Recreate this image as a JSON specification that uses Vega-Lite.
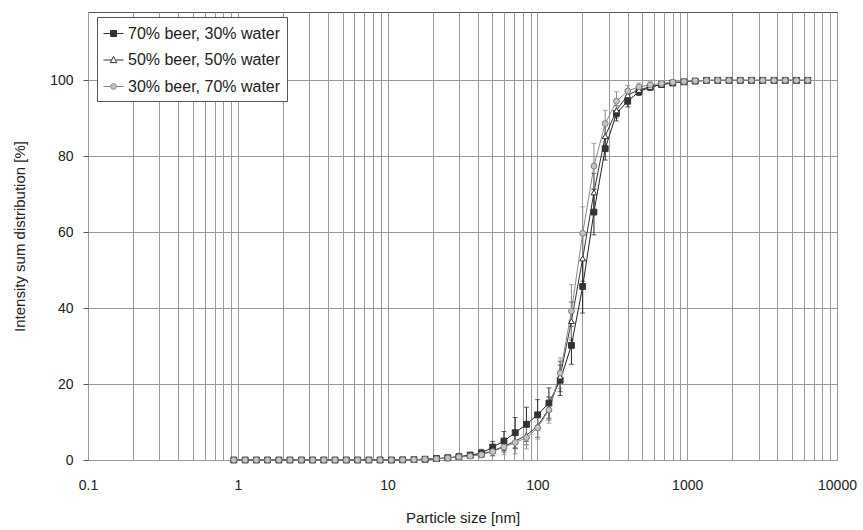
{
  "$schema": "https://vega.github.io/schema/vega-lite/v6.json",
  "width": 749,
  "height": 448,
  "autosize": {"type": "none"},
  "padding": {"left": 88, "right": 26, "top": 12, "bottom": 70},
  "background": "white",
  "config": {
    "font": "Liberation Sans",
    "view": {"stroke": "#555", "strokeWidth": 1},
    "axis": {
      "gridColor": "#9a9a9a", "gridOpacity": 1, "gridWidth": 1,
      "domainColor": "#555", "tickColor": "#555",
      "labelColor": "#222", "titleColor": "#222",
      "labelFont": "Liberation Sans", "titleFont": "Liberation Sans",
      "labelFontSize": 14, "titleFontSize": 15, "titleFontWeight": "normal"
    },
    "legend": {"labelFont": "Liberation Sans", "labelLimit": 400}
  },
  "datasets": {
    "dist": [
      {"size": 0.94, "series": "70% beer, 30% water", "value": 0},
      {"size": 1.12, "series": "70% beer, 30% water", "value": 0},
      {"size": 1.33, "series": "70% beer, 30% water", "value": 0},
      {"size": 1.58, "series": "70% beer, 30% water", "value": 0},
      {"size": 1.88, "series": "70% beer, 30% water", "value": 0},
      {"size": 2.23, "series": "70% beer, 30% water", "value": 0},
      {"size": 2.66, "series": "70% beer, 30% water", "value": 0},
      {"size": 3.16, "series": "70% beer, 30% water", "value": 0},
      {"size": 3.75, "series": "70% beer, 30% water", "value": 0},
      {"size": 4.46, "series": "70% beer, 30% water", "value": 0},
      {"size": 5.30, "series": "70% beer, 30% water", "value": 0},
      {"size": 6.31, "series": "70% beer, 30% water", "value": 0},
      {"size": 7.50, "series": "70% beer, 30% water", "value": 0},
      {"size": 8.91, "series": "70% beer, 30% water", "value": 0},
      {"size": 10.6, "series": "70% beer, 30% water", "value": 0},
      {"size": 12.6, "series": "70% beer, 30% water", "value": 0.05},
      {"size": 15.0, "series": "70% beer, 30% water", "value": 0.1},
      {"size": 17.8, "series": "70% beer, 30% water", "value": 0.2},
      {"size": 21.2, "series": "70% beer, 30% water", "value": 0.4},
      {"size": 25.2, "series": "70% beer, 30% water", "value": 0.6},
      {"size": 29.9, "series": "70% beer, 30% water", "value": 0.9},
      {"size": 35.6, "series": "70% beer, 30% water", "value": 1.3, "err": 0.5},
      {"size": 42.3, "series": "70% beer, 30% water", "value": 1.8, "err": 1.0},
      {"size": 50.3, "series": "70% beer, 30% water", "value": 3.4, "err": 1.5},
      {"size": 59.8, "series": "70% beer, 30% water", "value": 5.0, "err": 2.5},
      {"size": 71.1, "series": "70% beer, 30% water", "value": 7.2, "err": 4.0},
      {"size": 84.5, "series": "70% beer, 30% water", "value": 9.4, "err": 4.5},
      {"size": 100.4, "series": "70% beer, 30% water", "value": 11.9, "err": 4.0},
      {"size": 119.4, "series": "70% beer, 30% water", "value": 15.0, "err": 4.0},
      {"size": 141.9, "series": "70% beer, 30% water", "value": 21.0, "err": 4.0},
      {"size": 168.7, "series": "70% beer, 30% water", "value": 30.2, "err": 5.0},
      {"size": 200.6, "series": "70% beer, 30% water", "value": 45.7, "err": 7.0},
      {"size": 238.5, "series": "70% beer, 30% water", "value": 65.3, "err": 6.0},
      {"size": 283.5, "series": "70% beer, 30% water", "value": 82.0, "err": 3.0},
      {"size": 337.1, "series": "70% beer, 30% water", "value": 91.3, "err": 2.0},
      {"size": 400.8, "series": "70% beer, 30% water", "value": 94.5, "err": 1.5},
      {"size": 476.4, "series": "70% beer, 30% water", "value": 97.0, "err": 1.0},
      {"size": 566.4, "series": "70% beer, 30% water", "value": 98.2, "err": 0.8},
      {"size": 673.4, "series": "70% beer, 30% water", "value": 98.9},
      {"size": 800.6, "series": "70% beer, 30% water", "value": 99.3},
      {"size": 951.7, "series": "70% beer, 30% water", "value": 99.6},
      {"size": 1131, "series": "70% beer, 30% water", "value": 99.8},
      {"size": 1345, "series": "70% beer, 30% water", "value": 100},
      {"size": 1599, "series": "70% beer, 30% water", "value": 100},
      {"size": 1901, "series": "70% beer, 30% water", "value": 100},
      {"size": 2260, "series": "70% beer, 30% water", "value": 100},
      {"size": 2687, "series": "70% beer, 30% water", "value": 100},
      {"size": 3194, "series": "70% beer, 30% water", "value": 100},
      {"size": 3797, "series": "70% beer, 30% water", "value": 100},
      {"size": 4515, "series": "70% beer, 30% water", "value": 100},
      {"size": 5367, "series": "70% beer, 30% water", "value": 100},
      {"size": 6381, "series": "70% beer, 30% water", "value": 100},

      {"size": 0.94, "series": "50% beer, 50% water", "value": 0},
      {"size": 1.12, "series": "50% beer, 50% water", "value": 0},
      {"size": 1.33, "series": "50% beer, 50% water", "value": 0},
      {"size": 1.58, "series": "50% beer, 50% water", "value": 0},
      {"size": 1.88, "series": "50% beer, 50% water", "value": 0},
      {"size": 2.23, "series": "50% beer, 50% water", "value": 0},
      {"size": 2.66, "series": "50% beer, 50% water", "value": 0},
      {"size": 3.16, "series": "50% beer, 50% water", "value": 0},
      {"size": 3.75, "series": "50% beer, 50% water", "value": 0},
      {"size": 4.46, "series": "50% beer, 50% water", "value": 0},
      {"size": 5.30, "series": "50% beer, 50% water", "value": 0},
      {"size": 6.31, "series": "50% beer, 50% water", "value": 0},
      {"size": 7.50, "series": "50% beer, 50% water", "value": 0},
      {"size": 8.91, "series": "50% beer, 50% water", "value": 0},
      {"size": 10.6, "series": "50% beer, 50% water", "value": 0},
      {"size": 12.6, "series": "50% beer, 50% water", "value": 0.05},
      {"size": 15.0, "series": "50% beer, 50% water", "value": 0.1},
      {"size": 17.8, "series": "50% beer, 50% water", "value": 0.2},
      {"size": 21.2, "series": "50% beer, 50% water", "value": 0.3},
      {"size": 25.2, "series": "50% beer, 50% water", "value": 0.5},
      {"size": 29.9, "series": "50% beer, 50% water", "value": 0.8},
      {"size": 35.6, "series": "50% beer, 50% water", "value": 1.1, "err": 0.5},
      {"size": 42.3, "series": "50% beer, 50% water", "value": 1.5, "err": 0.8},
      {"size": 50.3, "series": "50% beer, 50% water", "value": 2.4, "err": 1.2},
      {"size": 59.8, "series": "50% beer, 50% water", "value": 3.6, "err": 1.5},
      {"size": 71.1, "series": "50% beer, 50% water", "value": 5.0, "err": 2.0},
      {"size": 84.5, "series": "50% beer, 50% water", "value": 6.5, "err": 2.5},
      {"size": 100.4, "series": "50% beer, 50% water", "value": 9.0, "err": 3.0},
      {"size": 119.4, "series": "50% beer, 50% water", "value": 13.5, "err": 3.0},
      {"size": 141.9, "series": "50% beer, 50% water", "value": 22.0, "err": 4.0},
      {"size": 168.7, "series": "50% beer, 50% water", "value": 36.6, "err": 5.0},
      {"size": 200.6, "series": "50% beer, 50% water", "value": 53.1, "err": 6.0},
      {"size": 238.5, "series": "50% beer, 50% water", "value": 70.5, "err": 5.0},
      {"size": 283.5, "series": "50% beer, 50% water", "value": 85.3, "err": 3.0},
      {"size": 337.1, "series": "50% beer, 50% water", "value": 92.1, "err": 2.0},
      {"size": 400.8, "series": "50% beer, 50% water", "value": 96.1, "err": 1.5},
      {"size": 476.4, "series": "50% beer, 50% water", "value": 97.5, "err": 1.0},
      {"size": 566.4, "series": "50% beer, 50% water", "value": 98.3, "err": 0.8},
      {"size": 673.4, "series": "50% beer, 50% water", "value": 98.9},
      {"size": 800.6, "series": "50% beer, 50% water", "value": 99.3},
      {"size": 951.7, "series": "50% beer, 50% water", "value": 99.6},
      {"size": 1131, "series": "50% beer, 50% water", "value": 99.8},
      {"size": 1345, "series": "50% beer, 50% water", "value": 100},
      {"size": 1599, "series": "50% beer, 50% water", "value": 100},
      {"size": 1901, "series": "50% beer, 50% water", "value": 100},
      {"size": 2260, "series": "50% beer, 50% water", "value": 100},
      {"size": 2687, "series": "50% beer, 50% water", "value": 100},
      {"size": 3194, "series": "50% beer, 50% water", "value": 100},
      {"size": 3797, "series": "50% beer, 50% water", "value": 100},
      {"size": 4515, "series": "50% beer, 50% water", "value": 100},
      {"size": 5367, "series": "50% beer, 50% water", "value": 100},
      {"size": 6381, "series": "50% beer, 50% water", "value": 100},

      {"size": 0.94, "series": "30% beer, 70% water", "value": 0},
      {"size": 1.12, "series": "30% beer, 70% water", "value": 0},
      {"size": 1.33, "series": "30% beer, 70% water", "value": 0},
      {"size": 1.58, "series": "30% beer, 70% water", "value": 0},
      {"size": 1.88, "series": "30% beer, 70% water", "value": 0},
      {"size": 2.23, "series": "30% beer, 70% water", "value": 0},
      {"size": 2.66, "series": "30% beer, 70% water", "value": 0},
      {"size": 3.16, "series": "30% beer, 70% water", "value": 0},
      {"size": 3.75, "series": "30% beer, 70% water", "value": 0},
      {"size": 4.46, "series": "30% beer, 70% water", "value": 0},
      {"size": 5.30, "series": "30% beer, 70% water", "value": 0},
      {"size": 6.31, "series": "30% beer, 70% water", "value": 0},
      {"size": 7.50, "series": "30% beer, 70% water", "value": 0},
      {"size": 8.91, "series": "30% beer, 70% water", "value": 0},
      {"size": 10.6, "series": "30% beer, 70% water", "value": 0},
      {"size": 12.6, "series": "30% beer, 70% water", "value": 0.05},
      {"size": 15.0, "series": "30% beer, 70% water", "value": 0.1},
      {"size": 17.8, "series": "30% beer, 70% water", "value": 0.2},
      {"size": 21.2, "series": "30% beer, 70% water", "value": 0.3},
      {"size": 25.2, "series": "30% beer, 70% water", "value": 0.5},
      {"size": 29.9, "series": "30% beer, 70% water", "value": 0.8},
      {"size": 35.6, "series": "30% beer, 70% water", "value": 1.0, "err": 0.5},
      {"size": 42.3, "series": "30% beer, 70% water", "value": 1.4, "err": 0.8},
      {"size": 50.3, "series": "30% beer, 70% water", "value": 2.2, "err": 1.2},
      {"size": 59.8, "series": "30% beer, 70% water", "value": 3.4, "err": 2.0},
      {"size": 71.1, "series": "30% beer, 70% water", "value": 4.6, "err": 3.0},
      {"size": 84.5, "series": "30% beer, 70% water", "value": 5.9, "err": 3.0},
      {"size": 100.4, "series": "30% beer, 70% water", "value": 8.5, "err": 3.0},
      {"size": 119.4, "series": "30% beer, 70% water", "value": 13.2, "err": 3.5},
      {"size": 141.9, "series": "30% beer, 70% water", "value": 22.9, "err": 4.0},
      {"size": 168.7, "series": "30% beer, 70% water", "value": 39.2, "err": 7.0},
      {"size": 200.6, "series": "30% beer, 70% water", "value": 59.7, "err": 7.0},
      {"size": 238.5, "series": "30% beer, 70% water", "value": 77.4, "err": 6.0},
      {"size": 283.5, "series": "30% beer, 70% water", "value": 88.6, "err": 3.5},
      {"size": 337.1, "series": "30% beer, 70% water", "value": 94.5, "err": 2.5},
      {"size": 400.8, "series": "30% beer, 70% water", "value": 97.2, "err": 1.5},
      {"size": 476.4, "series": "30% beer, 70% water", "value": 98.3, "err": 1.0},
      {"size": 566.4, "series": "30% beer, 70% water", "value": 98.8, "err": 0.8},
      {"size": 673.4, "series": "30% beer, 70% water", "value": 99.2},
      {"size": 800.6, "series": "30% beer, 70% water", "value": 99.5},
      {"size": 951.7, "series": "30% beer, 70% water", "value": 99.7},
      {"size": 1131, "series": "30% beer, 70% water", "value": 99.9},
      {"size": 1345, "series": "30% beer, 70% water", "value": 100},
      {"size": 1599, "series": "30% beer, 70% water", "value": 100},
      {"size": 1901, "series": "30% beer, 70% water", "value": 100},
      {"size": 2260, "series": "30% beer, 70% water", "value": 100},
      {"size": 2687, "series": "30% beer, 70% water", "value": 100},
      {"size": 3194, "series": "30% beer, 70% water", "value": 100},
      {"size": 3797, "series": "30% beer, 70% water", "value": 100},
      {"size": 4515, "series": "30% beer, 70% water", "value": 100},
      {"size": 5367, "series": "30% beer, 70% water", "value": 100},
      {"size": 6381, "series": "30% beer, 70% water", "value": 100}
    ]
  },
  "layer": [
    {
      "data": {"name": "dist"},
      "mark": {"type": "line", "strokeWidth": 1},
      "encoding": {
        "x": {
          "field": "size", "type": "quantitative",
          "title": "Particle size [nm]",
          "scale": {"type": "log", "domain": [0.1, 10000], "nice": false},
          "axis": {
            "values": [0.1,0.2,0.3,0.4,0.5,0.6,0.7,0.8,0.9,1,2,3,4,5,6,7,8,9,10,20,30,40,50,60,70,80,90,100,200,300,400,500,600,700,800,900,1000,2000,3000,4000,5000,6000,7000,8000,9000,10000],
            "labelExpr": "indexof([0.1,1,10,100,1000,10000], datum.value) >= 0 ? format(datum.value, '~g') : ''",
            "grid": true, "ticks": false, "domain": false,
            "labelPadding": 18, "labelFlush": false, "titlePadding": 18
          }
        },
        "y": {
          "field": "value", "type": "quantitative",
          "title": "Intensity sum distribution [%]",
          "scale": {"domain": [0, 118], "nice": false},
          "axis": {
            "values": [0, 20, 40, 60, 80, 100],
            "grid": true, "ticks": true, "tickSize": 5, "domain": false,
            "labelPadding": 10, "titlePadding": 22
          }
        },
        "color": {
          "field": "series", "type": "nominal",
          "scale": {"domain": ["70% beer, 30% water", "50% beer, 50% water", "30% beer, 70% water"], "range": ["#222222", "#333333", "#8a8a8a"]},
          "legend": null
        }
      }
    },
    {
      "data": {"name": "dist"},
      "transform": [{"filter": "isValid(datum.err)"}],
      "mark": {"type": "errorbar", "ticks": {"size": 5}, "thickness": 1},
      "encoding": {
        "x": {"field": "size", "type": "quantitative", "title": "Particle size [nm]"},
        "y": {"field": "value", "type": "quantitative", "title": "Intensity sum distribution [%]"},
        "yError": {"field": "err"},
        "color": {"field": "series", "type": "nominal", "legend": null}
      }
    },
    {
      "data": {"name": "dist"},
      "mark": {"type": "point", "filled": true, "size": 34, "strokeWidth": 1, "opacity": 1},
      "encoding": {
        "x": {"field": "size", "type": "quantitative", "title": "Particle size [nm]"},
        "y": {"field": "value", "type": "quantitative", "title": "Intensity sum distribution [%]"},
        "shape": {
          "field": "series", "type": "nominal",
          "scale": {"domain": ["70% beer, 30% water", "50% beer, 50% water", "30% beer, 70% water"], "range": ["square", "triangle-up", "circle"]},
          "legend": null
        },
        "fill": {
          "field": "series", "type": "nominal",
          "scale": {"domain": ["70% beer, 30% water", "50% beer, 50% water", "30% beer, 70% water"], "range": ["#333333", "#ffffff", "#c4c4c4"]},
          "legend": null
        },
        "stroke": {
          "field": "series", "type": "nominal",
          "scale": {"domain": ["70% beer, 30% water", "50% beer, 50% water", "30% beer, 70% water"], "range": ["#333333", "#333333", "#808080"]},
          "legend": null
        }
      }
    },
    {
      "data": {"values": []},
      "mark": {"type": "point", "filled": true, "strokeWidth": 1, "opacity": 1},
      "encoding": {
        "shape": {
          "field": "series", "type": "nominal",
          "scale": {"domain": ["70% beer, 30% water", "50% beer, 50% water", "30% beer, 70% water"], "range": [
            "M-1,0H-0.3M0.3,0H1M-0.3,-0.3H0.3V0.3H-0.3Z",
            "M-1,0H-0.2M0.2,0H1M0,-0.36L0.32,0.26L-0.32,0.26Z",
            "M-1,0H-0.28M0.28,0H1M-0.28,0A0.28,0.28,0,1,0,0.28,0A0.28,0.28,0,1,0,-0.28,0Z"
          ]},
          "legend": {
            "title": null, "orient": "none", "legendX": 9, "legendY": 5,
            "strokeColor": "#555", "fillColor": "white", "padding": 6,
            "labelFontSize": 16, "labelColor": "#222", "labelLimit": 400, "symbolSize": 400, "symbolOpacity": 1,
            "symbolStrokeWidth": 1, "rowPadding": 7.5, "labelOffset": 4
          }
        },
        "fill": {
          "field": "series", "type": "nominal",
          "scale": {"domain": ["70% beer, 30% water", "50% beer, 50% water", "30% beer, 70% water"], "range": ["#333333", "#ffffff", "#c4c4c4"]},
          "legend": {
            "title": null, "orient": "none", "legendX": 9, "legendY": 5,
            "strokeColor": "#555", "fillColor": "white", "padding": 6,
            "labelFontSize": 16, "labelColor": "#222", "labelLimit": 400, "symbolSize": 400, "symbolOpacity": 1,
            "symbolStrokeWidth": 1, "rowPadding": 7.5, "labelOffset": 4
          }
        },
        "stroke": {
          "field": "series", "type": "nominal",
          "scale": {"domain": ["70% beer, 30% water", "50% beer, 50% water", "30% beer, 70% water"], "range": ["#333333", "#333333", "#808080"]},
          "legend": {
            "title": null, "orient": "none", "legendX": 9, "legendY": 5,
            "strokeColor": "#555", "fillColor": "white", "padding": 6,
            "labelFontSize": 16, "labelColor": "#222", "labelLimit": 400, "symbolSize": 400, "symbolOpacity": 1,
            "symbolStrokeWidth": 1, "rowPadding": 7.5, "labelOffset": 4
          }
        }
      }
    }
  ],
  "resolve": {
    "scale": {"shape": "independent", "fill": "independent", "stroke": "independent"},
    "legend": {"shape": "independent", "fill": "independent", "stroke": "independent"}
  }
}
